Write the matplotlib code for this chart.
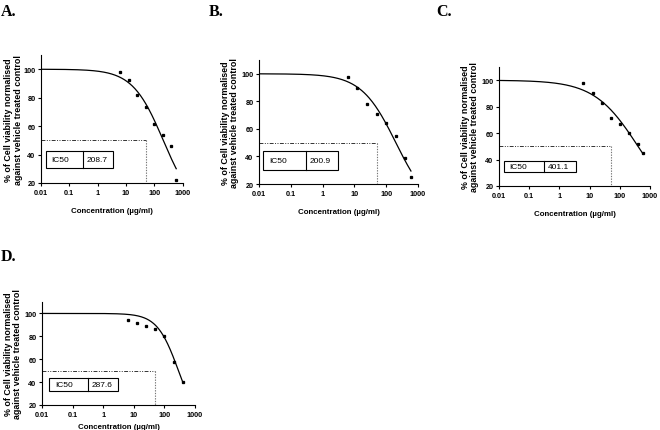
import numpy as np
import matplotlib
matplotlib.use("Agg")
import matplotlib.pyplot as plt
from matplotlib.patches import Rectangle

plt.rcParams['font.family'] = ['Liberation Sans', 'DejaVu Sans']

# data
conc = [6.25, 12.5, 25, 50, 100, 200, 400, 600]
conc_d = [6.25, 12.5, 25, 50, 100, 200, 400]
via_a = [98.2, 92.2, 82.1, 73.7, 61.4, 53.4, 46.1, 22.1]
via_b = [97.6, 89.8, 78.2, 70.7, 64.4, 55.2, 38.7, 24.8]
via_c = [98.0, 90.7, 82.8, 71.5, 66.7, 60.4, 52.0, 45.0]
via_d = [94.7, 91.8, 89.4, 86.5, 80.6, 58.0, 39.7]

# fitted curve parameters (top 100, bottom 0)
ic50 = {'A': 208.7, 'B': 200.9, 'C': 401.1, 'D': 287.6}
hill = {'A': 0.8, 'B': 0.8, 'C': 0.6, 'D': 1.25}
xticks = [0.01, 0.1, 1, 10, 100, 1000]
xticklabels = ['0.01', '0.1', '1', '10', '100', '1000']
yticks = [20, 40, 60, 80, 100]

W, H = 660, 431
fig = plt.figure(figsize=(W / 100, H / 100), dpi=100)


def px_axes(left, top, right, bottom):
    return fig.add_axes([left / W, 1 - bottom / H, (right - left) / W, (bottom - top) / H])


def panel(key, box, x, y, tbl, letter_xy, xpad=8, ypad=1.5):
    ax = px_axes(*box)
    xs = np.logspace(-2, np.log10(x[-1]), 300)
    ax.plot(xs, 100 / (1 + (xs / ic50[key]) ** hill[key]), color='black', lw=0.9)
    ax.plot(x, y, 's', color='black', ms=1.4)
    ls = (0, (4, 1.5, 1, 1.5, 1, 1.5))
    ax.plot([0.01, 50], [50, 50], color='#333333', lw=0.7, linestyle=ls)
    ax.plot([50, 50], [50, 20], color='#777777', lw=0.8, linestyle=(0, (1.2, 1.2)))
    ax.set_xscale('log')
    ax.set_xlim(0.01, 1000)
    ax.set_ylim(20, 110)
    ax.set_xticks(xticks)
    ax.set_xticklabels(xticklabels)
    ax.minorticks_off()
    ax.set_yticks(yticks)
    for s in ['top', 'right']:
        ax.spines[s].set_visible(False)
    for s in ['left', 'bottom']:
        ax.spines[s].set_linewidth(0.8)
    ax.tick_params(length=2.5, width=0.8, pad=1.5, labelsize=5.2)
    for lab in ax.get_xticklabels() + ax.get_yticklabels():
        lab.set_fontweight('bold')
    ax.set_xlabel('Concentration (µg/ml)', fontsize=5.7, fontweight='bold', labelpad=xpad)
    ax.set_ylabel('% of Cell viability normalised\nagainst vehicle treated control',
                  fontsize=6.4, fontweight='bold', labelpad=ypad, linespacing=1.05)
    # IC50 box
    x0, x1, xd, y0, y1 = tbl
    ax.add_patch(Rectangle((x0, y0), x1 - x0, y1 - y0, transform=ax.transAxes,
                           fill=False, lw=0.8, color='black'))
    ax.plot([xd, xd], [y0, y1], transform=ax.transAxes, color='black', lw=0.8)
    ax.text(x0 + 0.04, (y0 + y1) / 2, 'IC50', transform=ax.transAxes,
            fontsize=6, va='center', ha='left')
    ax.text(xd + 0.025, (y0 + y1) / 2, '%.1f' % ic50[key], transform=ax.transAxes,
            fontsize=6, va='center', ha='left')
    fig.text(letter_xy[0] / W, 1 - letter_xy[1] / H, key + '.', fontsize=11.5,
             fontweight='bold', family='Liberation Serif', va='top', ha='left')


panel('A', (41, 56, 182.5, 184), conc, via_a, (0.035, 0.507, 0.299, 0.117, 0.248), (1, 4),
      ypad=0.5)
panel('B', (259, 61, 418, 185), conc, via_b, (0.027, 0.499, 0.296, 0.115, 0.27), (209, 4))
panel('C', (499, 68, 650, 187), conc, via_c, (0.03, 0.51, 0.30, 0.115, 0.213), (436, 4))
panel('D', (42, 303, 195, 406), conc_d, via_d, (0.046, 0.5, 0.30, 0.139, 0.265), (1, 249),
      xpad=4)

fig.savefig('out.png', dpi=100)
